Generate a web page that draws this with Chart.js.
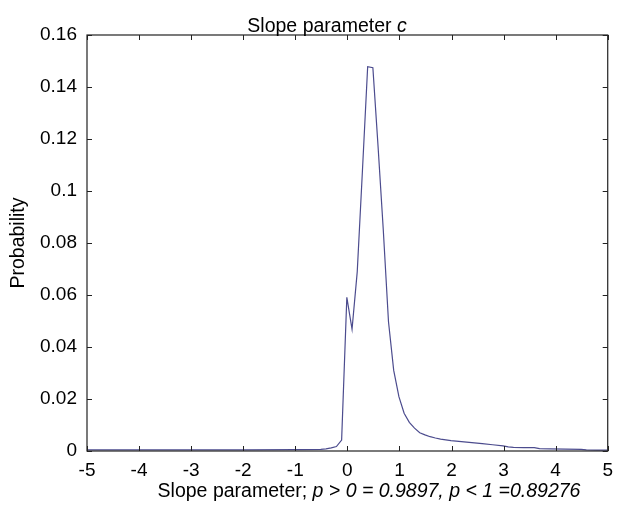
<!DOCTYPE html>
<html>
<head>
<meta charset="utf-8">
<script src="https://cdn.jsdelivr.net/npm/chart.js@4.4.1/dist/chart.umd.min.js"></script>
<style>
  html, body { margin: 0; padding: 0; background: #ffffff; }
  #wrap { width: 621px; height: 507px; }
</style>
</head>
<body>
<div id="wrap"><canvas id="c" width="621" height="507"></canvas></div>
<script>
// ---- data ----
const slopeValues = [-4.99, -3.99, -2.99, -1.99, -0.99, -0.51, -0.41, -0.31, -0.21, -0.11,
  -0.01, 0.09, 0.19, 0.29, 0.39, 0.49, 0.59, 0.69, 0.79, 0.89,
  0.99, 1.09, 1.19, 1.29, 1.39, 1.49, 1.59, 1.69, 1.79, 1.89,
  1.99, 2.19, 2.39, 2.59, 2.79, 2.99, 3.09, 3.19, 3.39, 3.59,
  3.69, 3.89, 4.19, 4.49, 4.59, 4.79, 4.99];
const probabilityValues = [0.0004, 0.0004, 0.0004, 0.0004, 0.0005, 0.0006, 0.0008, 0.0012, 0.0017, 0.0042,
  0.0591, 0.0468, 0.0690, 0.1080, 0.1478, 0.1474, 0.1170, 0.0850, 0.0497, 0.0310,
  0.0209, 0.0145, 0.0110, 0.0088, 0.0070, 0.0062, 0.0055, 0.0050, 0.0046, 0.0043,
  0.0040, 0.0036, 0.0032, 0.0028, 0.0024, 0.0020, 0.0016, 0.0014, 0.0013, 0.0013,
  0.0009, 0.0008, 0.0007, 0.0006, 0.0004, 0.0003, 0.0003];
const xTicks = [-5, -4, -3, -2, -1, 0, 1, 2, 3, 4, 5];
const xTickLabels = ['-5', '-4', '-3', '-2', '-1', '0', '1', '2', '3', '4', '5'];
const yTicks = [0, 0.02, 0.04, 0.06, 0.08, 0.1, 0.12, 0.14, 0.16];
const yTickLabels = ['0', '0.02', '0.04', '0.06', '0.08', '0.1', '0.12', '0.14', '0.16'];
const titleParts = [['Slope parameter ', false], ['c', true]];
const xLabelParts = [['Slope parameter; ', false], ['p > 0 = 0.9897, p < 1 =0.89276', true]];
const yLabel = 'Probability';

const FONT = '"Liberation Sans", Arial, Helvetica, sans-serif';
const FS = 19;
const LFS = 19.5;

function drawParts(ctx, parts, cx, baseline) {
  let total = 0;
  const widths = parts.map(([t, it]) => {
    ctx.font = (it ? 'italic ' : '') + LFS + 'px ' + FONT;
    const w = ctx.measureText(t).width;
    total += w;
    return w;
  });
  let x = cx - total / 2;
  ctx.textAlign = 'left';
  ctx.textBaseline = 'alphabetic';
  parts.forEach(([t, it], i) => {
    ctx.font = (it ? 'italic ' : '') + LFS + 'px ' + FONT;
    ctx.fillText(t, x, baseline);
    x += widths[i];
  });
}

const framePlugin = {
  id: 'frame',
  afterDraw(chart) {
    const ctx = chart.ctx;
    const a = chart.chartArea;
    const xs = chart.scales.x, ys = chart.scales.y;
    ctx.save();
    ctx.strokeStyle = '#222222';
    ctx.lineWidth = 1.2;
    ctx.strokeRect(a.left, a.top, a.right - a.left, a.bottom - a.top);
    const tl = 5;
    ctx.beginPath();
    xs.ticks.forEach(t => {
      const px = Math.round(xs.getPixelForValue(t.value)) + 0.5;
      ctx.moveTo(px, a.bottom); ctx.lineTo(px, a.bottom - tl);
      ctx.moveTo(px, a.top); ctx.lineTo(px, a.top + tl);
    });
    ys.ticks.forEach(t => {
      const py = Math.round(ys.getPixelForValue(t.value)) + 0.5;
      ctx.moveTo(a.left, py); ctx.lineTo(a.left + tl, py);
      ctx.moveTo(a.right, py); ctx.lineTo(a.right - tl, py);
    });
    ctx.lineWidth = 1;
    ctx.stroke();
    ctx.fillStyle = '#000000';
    drawParts(ctx, titleParts, 327, 32);
    drawParts(ctx, xLabelParts, 369, 497);
    ctx.translate(24, (a.top + a.bottom) / 2);
    ctx.rotate(-Math.PI / 2);
    ctx.font = LFS + 'px ' + FONT;
    ctx.textAlign = 'center';
    ctx.textBaseline = 'alphabetic';
    ctx.fillText(yLabel, 0, 0);
    ctx.restore();
  }
};

new Chart(document.getElementById('c'), {
  type: 'scatter',
  data: {
    datasets: [{
      data: slopeValues.map((x, i) => ({ x: x, y: probabilityValues[i] })),
      showLine: true,
      borderColor: '#4c4c8e',
      borderWidth: 1.2,
      pointRadius: 0,
      tension: 0,
      fill: false
    }]
  },
  options: {
    responsive: false,
    devicePixelRatio: 1,
    animation: false,
    layout: { padding: { left: 0, right: 8, top: 35, bottom: 0 } },
    plugins: { legend: { display: false }, tooltip: { enabled: false }, title: { display: false } },
    scales: {
      x: {
        type: 'linear',
        min: -5, max: 5,
        afterBuildTicks: s => { s.ticks = xTicks.map(v => ({ value: v })); },
        afterFit: s => { s.height = 56; },
        grid: { display: false, drawTicks: false },
        border: { display: false },
        ticks: {
          color: '#000', font: { family: FONT, size: FS }, padding: 8,
          maxRotation: 0, autoSkip: false,
          callback: (v, i) => xTickLabels[i]
        }
      },
      y: {
        type: 'linear',
        min: 0, max: 0.16,
        afterBuildTicks: s => { s.ticks = yTicks.map(v => ({ value: v })); },
        afterFit: s => { s.width = 87; },
        grid: { display: false, drawTicks: false },
        border: { display: false },
        ticks: {
          color: '#000', font: { family: FONT, size: FS }, padding: 10,
          autoSkip: false,
          callback: (v, i) => yTickLabels[i]
        }
      }
    }
  },
  plugins: [framePlugin]
});
</script>
</body>
</html>
